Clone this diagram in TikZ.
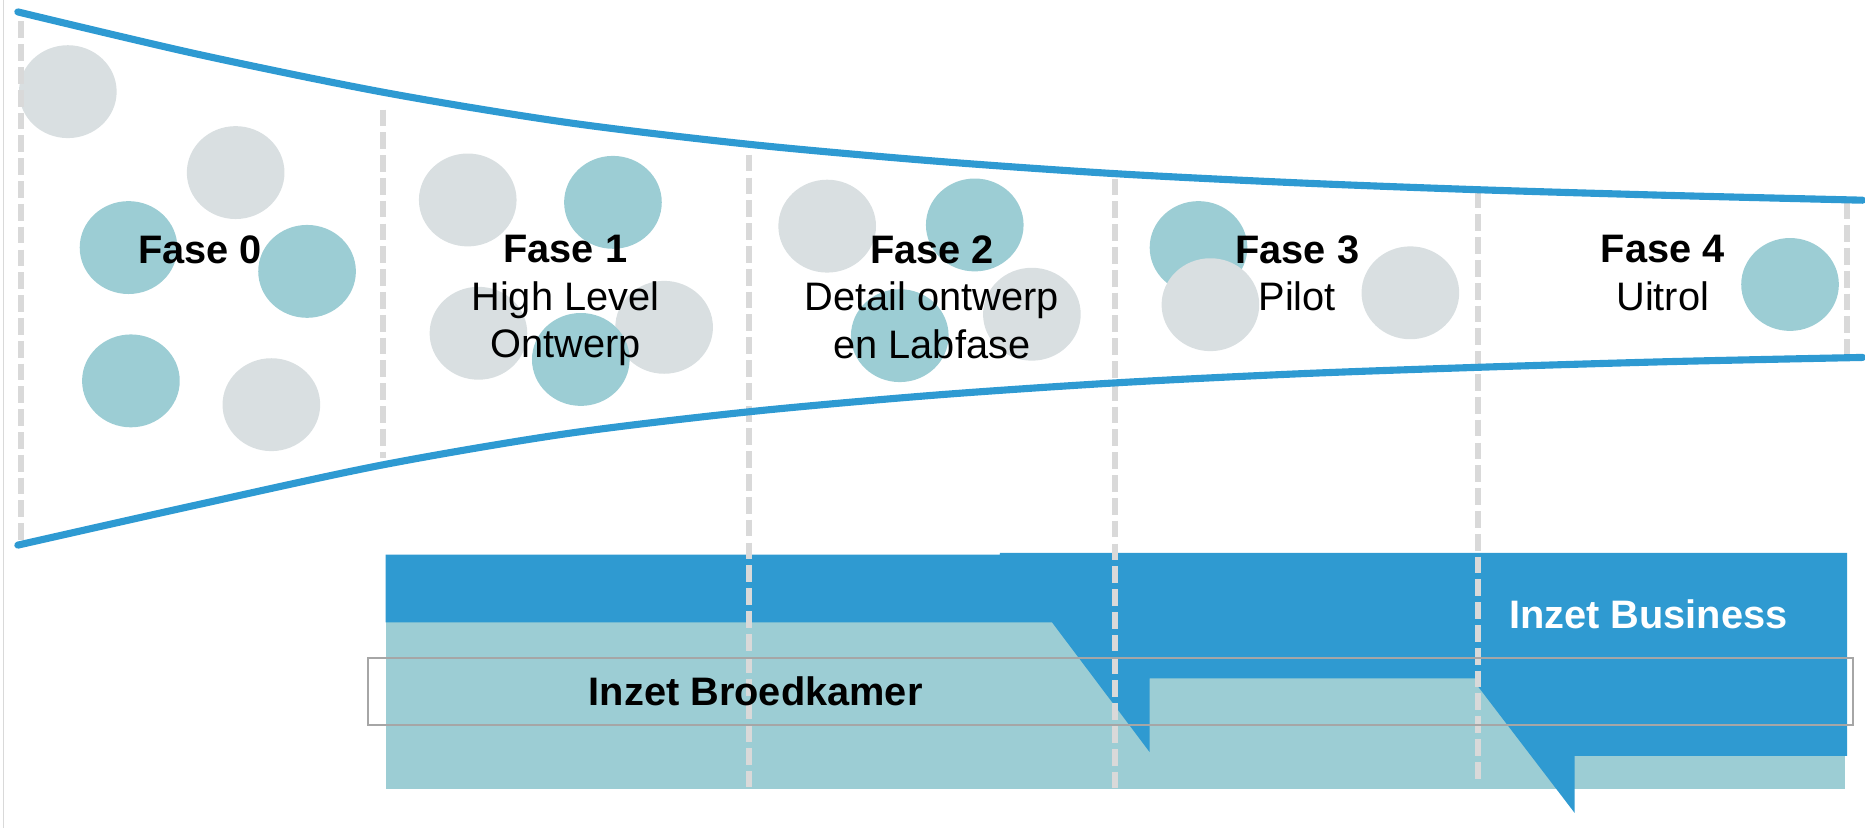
\documentclass[tikz,border=0pt]{standalone}
\usepackage{fontspec}
\setmainfont{Liberation Sans}
\usetikzlibrary{shapes.geometric}
\definecolor{lineblue}{HTML}{2E9AD2}
\definecolor{barblue}{HTML}{2F9AD1}
\definecolor{tealc}{HTML}{9CCDD4}
\definecolor{greyc}{HTML}{D9DFE1}
\definecolor{dashc}{HTML}{D9D9D9}
\definecolor{boxc}{HTML}{A6A6A6}
\begin{document}
\begin{tikzpicture}[x=0.01cm,y=-0.01cm,
  phaseline/.style={draw=dashc, line width=1.4pt, dash pattern=on 4pt off 1.45pt},
  funnel/.style={draw=lineblue, line width=1.7pt, line cap=round},
  gc/.style={ellipse, fill=greyc, minimum width=0.82cm, minimum height=0.78cm, inner sep=0pt},
  tc/.style={gc, fill=tealc},
  lbl/.style={font=\fontsize{9.5}{11.34}\selectfont, align=center, inner sep=0pt, anchor=north},
  barlbl/.style={font=\fontsize{9.5}{11.34}\selectfont\bfseries, inner sep=0pt}]
\useasboundingbox (0,0) rectangle (1567,696);
% left border line
\draw[dashc, line width=0.4pt] (3,0) -- (3,696);
% circles
\node[gc] (g01) at (57,77) {};
\node[gc] (g02) at (198,145) {};
\node[tc] (t01) at (108,208) {};
\node[tc] (t02) at (258,228) {};
\node[tc] (t03) at (110,320) {};
\node[gc] (g03) at (228,340) {};
\node[gc] (g11) at (393,168) {};
\node[tc] (t11) at (515,170) {};
\node[gc] (g12) at (402,280) {};
\node[gc] (g13) at (558,275) {};
\node[tc] (t12) at (488,302) {};
\node[gc] (g21) at (695,190) {};
\node[tc] (t21) at (819,189) {};
\node[gc] (g22) at (867,264) {};
\node[tc] (t22) at (756,282) {};
\node[tc] (t31) at (1007,208) {};
\node[gc] (g31) at (1017,256) {};
\node[gc] (g32) at (1185,246) {};
\node[tc] (t41) at (1504,239) {};
% bars
\fill[tealc] (324,523) rectangle (1550,663);
\fill[barblue] (324,466) -- (840,466) -- (840,464.5) -- (1552,464.5) -- (1552,635) -- (1323,635) -- (1323,683)
  -- (1242,577) -- (1242,570) -- (966,570) -- (966,632) -- (884,523) -- (324,523) -- cycle;
% phase separators
\draw[phaseline] (18,18) -- (18,455);
\draw[phaseline] (322,92) -- (322,385);
\draw[phaseline] (629,130) -- (629,663);
\draw[phaseline] (937,150) -- (937,663);
\draw[phaseline] (1242,161) -- (1242,655);
\draw[phaseline] (1552,170) -- (1552,300);
% funnel
\draw[funnel] plot[smooth, tension=0.5] coordinates {(15,10) (165,45.3) (322,77.5) (475,102.7) (629,121.2) (784,135.2) (937,145.9) (1090,153.6) (1242,159.4) (1400,164.1) (1565,168.2)};
\draw[funnel] plot[smooth, tension=0.5] coordinates {(15,458) (165,424.3) (322,390.5) (475,364.5) (629,346) (784,332.1) (937,321.7) (1090,314.1) (1242,308.6) (1400,303.9) (1565,300.3)};
% text box outline
\draw[boxc, line width=0.4pt] (309,553) rectangle (1557,609);
% labels
\node[lbl] (f0) at (168,197) {\textbf{Fase 0}};
\node[lbl] (f1) at (475,197) {\textbf{Fase 1}\\High Level\\Ontwerp};
\node[lbl] (f2) at (783,197) {\textbf{Fase 2}\\Detail ontwerp\\en Labfase};
\node[lbl] (f3) at (1090,197) {\textbf{Fase 3}\\Pilot};
\node[lbl] (f4) at (1397,197) {\textbf{Fase 4}\\Uitrol};
\node[barlbl] (broed) at (635,581) {Inzet Broedkamer};
\node[barlbl, text=white] (bus) at (1385,516) {Inzet Business};
\end{tikzpicture}
\end{document}
